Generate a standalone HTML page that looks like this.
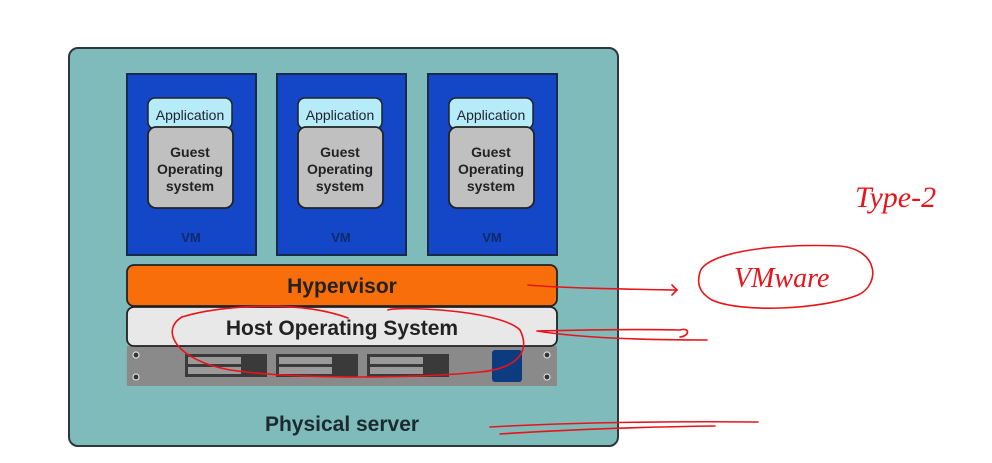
<!DOCTYPE html>
<html><head><meta charset="utf-8"><style>
html,body{margin:0;padding:0;background:#fff;}
svg{display:block;}
</style></head><body>
<svg width="992" height="463" viewBox="0 0 992 463" xmlns="http://www.w3.org/2000/svg" font-family="'Liberation Sans','DejaVu Sans',sans-serif">
<rect width="992" height="463" fill="#fff"/>
<rect x="69" y="48" width="549" height="398" rx="9" fill="#7fbbba" stroke="#2a3a3a" stroke-width="2"/>
<g>
<rect x="127" y="74" width="129" height="181" fill="#1446c8" stroke="#1a2a4a" stroke-width="2"/>
<rect x="148" y="98" width="84" height="31" rx="7" fill="#b6ecf8" stroke="#222" stroke-width="1.5"/>
<text x="190" y="120" font-size="14" text-anchor="middle" fill="#223">Application</text>
<rect x="148" y="127" width="85" height="81" rx="8" fill="#c0c0c0" stroke="#222" stroke-width="1.8"/>
<text x="190" y="157" font-size="14" font-weight="bold" text-anchor="middle" fill="#222">Guest</text>
<text x="190" y="174" font-size="14" font-weight="bold" text-anchor="middle" fill="#222">Operating</text>
<text x="190" y="191" font-size="14" font-weight="bold" text-anchor="middle" fill="#222">system</text>
<text x="191" y="242" font-size="13" font-weight="bold" text-anchor="middle" fill="#0d2a6a">VM</text>
</g>
<g transform="translate(150,0)">
<rect x="127" y="74" width="129" height="181" fill="#1446c8" stroke="#1a2a4a" stroke-width="2"/>
<rect x="148" y="98" width="84" height="31" rx="7" fill="#b6ecf8" stroke="#222" stroke-width="1.5"/>
<text x="190" y="120" font-size="14" text-anchor="middle" fill="#223">Application</text>
<rect x="148" y="127" width="85" height="81" rx="8" fill="#c0c0c0" stroke="#222" stroke-width="1.8"/>
<text x="190" y="157" font-size="14" font-weight="bold" text-anchor="middle" fill="#222">Guest</text>
<text x="190" y="174" font-size="14" font-weight="bold" text-anchor="middle" fill="#222">Operating</text>
<text x="190" y="191" font-size="14" font-weight="bold" text-anchor="middle" fill="#222">system</text>
<text x="191" y="242" font-size="13" font-weight="bold" text-anchor="middle" fill="#0d2a6a">VM</text>
</g>
<g transform="translate(301,0)">
<rect x="127" y="74" width="129" height="181" fill="#1446c8" stroke="#1a2a4a" stroke-width="2"/>
<rect x="148" y="98" width="84" height="31" rx="7" fill="#b6ecf8" stroke="#222" stroke-width="1.5"/>
<text x="190" y="120" font-size="14" text-anchor="middle" fill="#223">Application</text>
<rect x="148" y="127" width="85" height="81" rx="8" fill="#c0c0c0" stroke="#222" stroke-width="1.8"/>
<text x="190" y="157" font-size="14" font-weight="bold" text-anchor="middle" fill="#222">Guest</text>
<text x="190" y="174" font-size="14" font-weight="bold" text-anchor="middle" fill="#222">Operating</text>
<text x="190" y="191" font-size="14" font-weight="bold" text-anchor="middle" fill="#222">system</text>
<text x="191" y="242" font-size="13" font-weight="bold" text-anchor="middle" fill="#0d2a6a">VM</text>
</g>
<rect x="127" y="346" width="430" height="40" fill="#8a8a8a"/>
<g fill="#3a3a3a">
<rect x="185" y="354" width="82" height="23"/><rect x="276" y="354" width="82" height="23"/><rect x="367" y="354" width="82" height="23"/>
</g>
<g fill="#9a9a9a">
<rect x="188" y="357" width="53" height="7"/><rect x="188" y="367" width="53" height="7"/>
<rect x="279" y="357" width="53" height="7"/><rect x="279" y="367" width="53" height="7"/>
<rect x="370" y="357" width="53" height="7"/><rect x="370" y="367" width="53" height="7"/>
</g>
<rect x="492" y="350" width="30" height="32" rx="3" fill="#0d3b80"/>
<g fill="#333" stroke="#ddd" stroke-width="1.2">
<circle cx="136" cy="355" r="3"/><circle cx="136" cy="377" r="3"/><circle cx="547" cy="355" r="3"/><circle cx="547" cy="377" r="3"/>
</g>
<rect x="127" y="265" width="430" height="41" rx="7" fill="#f76e0a" stroke="#222" stroke-width="1.8"/>
<text x="342" y="293" font-size="21" font-weight="bold" text-anchor="middle" fill="#222">Hypervisor</text>
<rect x="127" y="307" width="430" height="39" rx="7" fill="#e8e8e8" stroke="#222" stroke-width="1.8"/>
<text x="342" y="335" font-size="21" font-weight="bold" text-anchor="middle" fill="#222">Host Operating System</text>
<text x="342" y="431" font-size="21" font-weight="bold" text-anchor="middle" fill="#1a2a30">Physical server</text>
<g fill="none" stroke="#e8141a" stroke-width="1.6" stroke-linecap="round">
<path d="M182 317 C160 330,175 360,230 370 C300 380,420 378,480 372 C520 368,530 350,520 330 C500 310,400 306,388 310"/>
<path d="M182 317 C220 305,300 300,348 318"/>
<path d="M528 285 C560 288,620 289,675 290 M672 285 L677 290 L672 295"/>
<path d="M537 331 C580 330,640 329,680 330 C690 327,690 336,680 337 M537 331 C580 338,650 340,707 340"/>
<path d="M700 272 C705 255,760 243,840 246 C880 250,880 285,858 295 C820 310,740 313,712 300 C698 292,697 282,700 272"/>
<path d="M490 427 C560 423,660 421,758 422 M500 434 C560 430,640 427,715 426"/>
</g>
<text x="734" y="287" font-family="'Liberation Serif',serif" font-style="italic" font-size="28" fill="#e8141a">VMware</text>
<text x="855" y="207" font-family="'Liberation Serif',serif" font-style="italic" font-size="30" fill="#e8141a">Type-2</text>
</svg>
</body></html>
